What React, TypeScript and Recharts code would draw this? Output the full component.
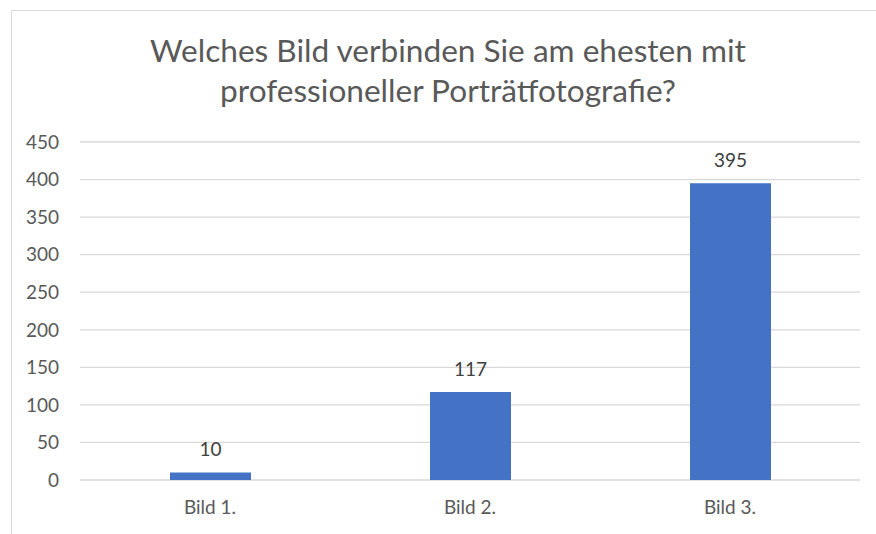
import { BarChart, Bar, XAxis, YAxis, CartesianGrid, LabelList } from 'recharts'

const categories = ['Bild 1.', 'Bild 2.', 'Bild 3.']
const votes = [10, 117, 395]
const yTicks = [0, 50, 100, 150, 200, 250, 300, 350, 400, 450]

const data = categories.map((name, i) => ({ name, value: votes[i] }))

const font = 'Lato, "Noto Sans", sans-serif'

export default function App() {
  return (
    <div style={{ position: 'absolute', left: 0, top: 0, width: 876, height: 534, overflow: 'hidden', background: '#fff', fontFamily: font }}>
      {/* chart frame, cut off at right and bottom */}
      <div style={{ position: 'absolute', left: 11, top: 10, width: 1000, height: 800, border: '1px solid #d9d9d9' }} />
      <div style={{ position: 'absolute', left: 0, top: 30, width: 896, textAlign: 'center', fontSize: 31.6, lineHeight: '40px', color: '#595959' }}>
        Welches Bild verbinden Sie am ehesten mit<br />professioneller Porträtfotografie?
      </div>
      <div style={{ position: 'absolute', left: 0, top: 0 }}>
        <BarChart width={876} height={534} data={data} margin={{ top: 142, right: 16, left: 0, bottom: 14 }}>
          <CartesianGrid vertical={false} stroke="#d9d9d9" strokeWidth={1.3} />
          <XAxis dataKey="name" axisLine={false} tickLine={false} tickSize={0} tickMargin={21}
            height={40} tick={{ fill: '#595959', fontSize: 19, fontFamily: font }} />
          <YAxis domain={[0, 450]} ticks={yTicks} axisLine={false} tickLine={false} tickSize={0}
            tickMargin={21} width={80} tick={{ fill: '#595959', fontSize: 19, fontFamily: font }} />
          <Bar dataKey="value" fill="#4472C4" barSize={81} isAnimationActive={false}>
            <LabelList dataKey="value" position="top" offset={16} fill="#404040" fontSize={19} fontFamily={font} />
          </Bar>
        </BarChart>
      </div>
    </div>
  )
}
